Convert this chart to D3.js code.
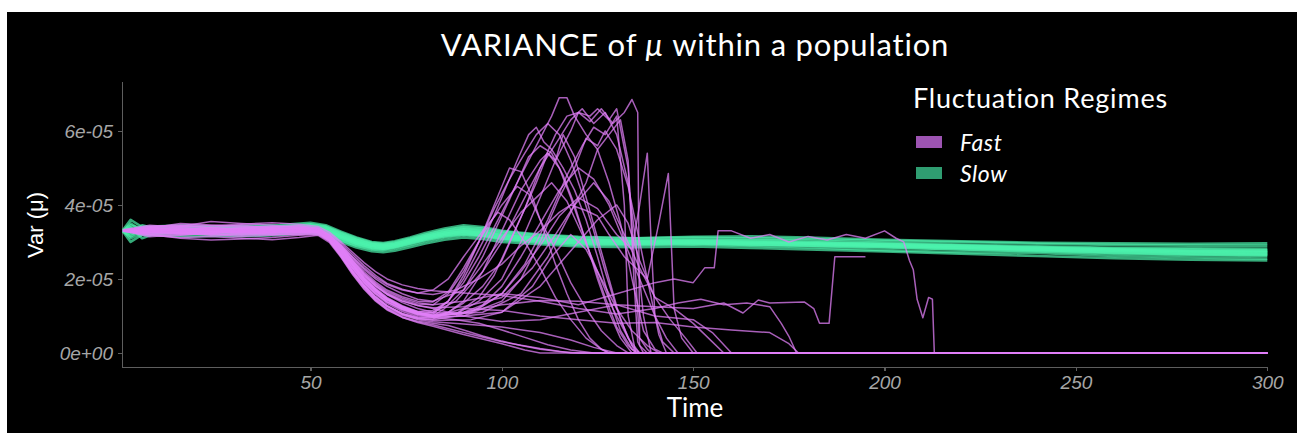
<!DOCTYPE html>
<html>
<head>
<meta charset="utf-8" />
<title>Variance of mu</title>
<script src="https://cdn.jsdelivr.net/npm/d3@7"></script>
<style>
  body { margin: 0; background: #fff; }
  .axis path, .axis line { stroke: #5e5e5e; stroke-width: 1.3; shape-rendering: crispEdges; }
  .axis text { fill: #a6a6a6; font-family: "Liberation Sans", Arial, sans-serif; font-style: italic; font-size: 19px; }
</style>
</head>
<body>
<div id="chart"></div>
<script>
  // values are in units of 1e-5
  const UNIT = 1e-5;

  const xTicks = [50, 100, 150, 200, 250, 300];
  const yTicks = [0, 2e-5, 4e-5, 6e-5];
  const yTickLabels = ["0e+00", "2e-05", "4e-05", "6e-05"];
  const regimes = ["Fast", "Slow"];

  // slow regime: shared time grid
  const tSlow = [1,3,6,10,18,26,34,42,50,54,58,62,66,69,72,76,80,85,90,95,100,110,120,135,150,165,180,200,220,240,260,280,300];
  const slow01 = [3.30,3.35,3.28,3.30,3.27,3.31,3.29,3.33,3.38,3.30,3.12,2.98,2.88,2.85,2.90,3.00,3.10,3.20,3.26,3.20,3.12,3.05,3.00,2.98,3.00,2.97,2.95,2.90,2.85,2.80,2.75,2.72,2.70];
  const slow02 = [3.32,3.60,3.40,3.42,3.45,3.40,3.44,3.46,3.52,3.45,3.28,3.12,3.00,2.97,3.02,3.12,3.24,3.36,3.45,3.40,3.30,3.20,3.14,3.10,3.12,3.10,3.08,3.03,3.00,2.95,2.92,2.90,2.90];
  const slow03 = [3.28,3.00,3.20,3.18,3.15,3.17,3.16,3.19,3.24,3.18,3.00,2.85,2.75,2.72,2.76,2.86,2.96,3.06,3.12,3.08,3.00,2.94,2.88,2.86,2.88,2.84,2.80,2.74,2.68,2.62,2.56,2.52,2.50];
  const slow04 = [3.30,3.25,3.45,3.35,3.33,3.36,3.34,3.36,3.42,3.36,3.18,3.04,2.93,2.90,2.95,3.05,3.16,3.27,3.33,3.28,3.18,3.10,3.06,3.04,3.06,3.04,3.00,2.95,2.90,2.86,2.82,2.80,2.78];
  const slow05 = [3.31,3.40,3.10,3.25,3.22,3.24,3.22,3.26,3.32,3.24,3.06,2.92,2.82,2.80,2.85,2.95,3.05,3.15,3.20,3.16,3.08,3.00,2.95,2.93,2.95,2.92,2.90,2.85,2.80,2.74,2.68,2.64,2.62];
  const slow06 = [3.29,3.50,3.30,3.28,3.32,3.35,3.38,3.40,3.46,3.40,3.22,3.06,2.95,2.92,2.96,3.06,3.18,3.30,3.38,3.33,3.24,3.14,3.08,3.02,3.02,3.00,2.98,2.94,2.90,2.84,2.78,2.74,2.72];
  const slow07 = [3.30,3.15,3.35,3.22,3.28,3.26,3.24,3.28,3.35,3.28,3.10,2.95,2.85,2.82,2.87,2.97,3.08,3.18,3.24,3.18,3.10,3.04,2.98,2.96,2.96,2.94,2.92,2.88,2.84,2.80,2.76,2.70,2.68];
  const slow08 = [3.32,3.30,3.25,3.38,3.36,3.30,3.32,3.31,3.36,3.32,3.15,3.00,2.90,2.88,2.92,3.02,3.12,3.22,3.28,3.24,3.16,3.08,3.02,3.00,2.98,2.98,2.97,2.92,2.86,2.82,2.78,2.75,2.74];
  const slow09 = [3.30,3.10,3.25,3.28,3.24,3.20,3.22,3.24,3.30,3.22,3.04,2.90,2.80,2.78,2.82,2.92,3.02,3.12,3.18,3.14,3.06,2.98,2.92,2.92,2.94,2.90,2.86,2.78,2.72,2.70,2.62,2.58,2.55];
  const slow10 = [3.31,3.45,3.35,3.32,3.40,3.38,3.36,3.38,3.44,3.38,3.20,3.05,2.94,2.91,2.95,3.04,3.15,3.26,3.34,3.30,3.22,3.12,3.06,3.04,3.05,3.06,3.04,2.98,2.93,2.88,2.84,2.83,2.82];
  const slow11 = [3.29,3.20,3.30,3.30,3.30,3.33,3.31,3.34,3.40,3.34,3.16,3.02,2.92,2.88,2.93,3.03,3.14,3.24,3.30,3.26,3.18,3.10,3.04,3.02,3.03,3.00,2.96,2.92,2.88,2.84,2.80,2.77,2.76];
  const slow12 = [3.30,3.38,3.28,3.36,3.38,3.42,3.40,3.42,3.48,3.42,3.25,3.10,2.98,2.95,2.99,3.09,3.20,3.32,3.40,3.36,3.28,3.18,3.12,3.10,3.14,3.15,3.12,3.06,3.02,2.98,2.96,2.95,2.96];
  const slow13 = [3.30,3.28,3.20,3.24,3.26,3.28,3.27,3.30,3.36,3.29,3.11,2.96,2.86,2.83,2.88,2.98,3.08,3.18,3.22,3.18,3.10,3.02,2.96,2.95,2.97,2.94,2.91,2.86,2.80,2.76,2.70,2.66,2.64];
  const slow14 = [3.31,3.33,3.32,3.26,3.29,3.30,3.33,3.35,3.40,3.33,3.14,2.99,2.89,2.86,2.91,3.01,3.12,3.22,3.28,3.22,3.14,3.06,3.01,2.99,3.00,2.98,2.95,2.90,2.84,2.78,2.72,2.68,2.66];

  // fast regime: [time, value] pairs, each run ends when it does
  const fast01 = [[1,3.30],[8,3.38],[16,3.50],[24,3.46],[32,3.42],[40,3.40],[47,3.44],[52,3.36],[55,3.18],[58,2.85],[61,2.45],[64,2.05],[67,1.75],[70,1.50],[74,1.28],[78,1.12],[82,1.15],[86,1.40],[90,1.90],[94,2.60],[98,3.40],[102,4.20],[106,5.00],[110,5.80],[113,6.40],[115,6.90],[117,6.90],[119,6.40],[122,5.90],[125,5.50],[128,4.60],[131,3.50],[134,2.00],[137,0.60],[140,0.10],[142,0],[300,0]];
  const fast02 = [[1,3.32],[8,3.28],[16,3.22],[24,3.25],[32,3.30],[40,3.28],[47,3.32],[52,3.30],[55,3.10],[58,2.78],[61,2.38],[64,1.98],[67,1.68],[70,1.44],[74,1.22],[78,1.08],[82,1.02],[86,1.10],[90,1.35],[95,1.80],[100,2.50],[103,3.20],[106,3.90],[110,5.00],[114,5.90],[117,6.40],[120,6.50],[123,6.25],[126,6.60],[129,6.20],[132,6.50],[134,6.85],[135.5,6.50],[136,0.40],[138,0.10],[139,0],[300,0]];
  const fast03 = [[1,3.28],[8,3.40],[16,3.36],[24,3.30],[32,3.20],[40,3.25],[47,3.30],[52,3.28],[55,3.08],[58,2.70],[61,2.28],[64,1.90],[67,1.60],[70,1.38],[74,1.18],[78,1.05],[82,1.10],[86,1.40],[90,2.00],[95,3.00],[100,4.20],[104,5.20],[107,5.90],[109,6.10],[111,5.70],[113,5.50],[116,5.00],[119,4.40],[122,3.60],[125,2.60],[128,1.50],[131,0.60],[134,0.10],[136,0],[300,0]];
  const fast04 = [[1,3.30],[8,3.20],[16,3.10],[24,3.05],[32,3.08],[40,3.12],[47,3.18],[52,3.20],[55,3.02],[58,2.62],[61,2.18],[64,1.78],[67,1.45],[70,1.22],[74,1.02],[78,0.92],[82,0.90],[88,1.00],[94,1.20],[100,1.60],[105,2.20],[110,2.90],[115,3.70],[120,4.20],[125,3.90],[130,3.20],[134,2.80],[136,4.00],[138,5.40],[139,3.00],[140,1.00],[142,0.30],[145,0],[300,0]];
  const fast05 = [[1,3.31],[8,3.30],[16,3.42],[24,3.55],[32,3.50],[40,3.45],[47,3.40],[52,3.38],[55,3.22],[58,2.96],[61,2.66],[64,2.36],[67,2.10],[70,1.88],[74,1.72],[78,1.62],[82,1.58],[88,1.70],[94,2.00],[100,2.40],[105,2.90],[110,3.30],[115,3.80],[118,4.00],[122,3.85],[125,3.70],[128,3.20],[132,2.60],[136,2.20],[138,2.00],[141,3.50],[143.5,4.85],[145,1.20],[147,0.40],[150,0],[300,0]];
  const fast06 = [[1,3.29],[8,3.35],[16,3.30],[24,3.38],[32,3.35],[40,3.33],[47,3.36],[52,3.32],[55,3.14],[58,2.82],[61,2.42],[64,2.02],[67,1.72],[70,1.46],[74,1.24],[78,1.08],[82,1.00],[88,1.05],[94,1.40],[100,2.00],[105,3.00],[110,4.20],[114,5.20],[118,6.00],[120,6.50],[123,6.40],[125,6.60],[128,6.30],[130,6.60],[133,5.00],[135,2.00],[136,0.20],[138,0],[300,0]];
  const fast07 = [[1,3.30],[8,3.25],[16,3.28],[24,3.20],[32,3.15],[40,3.18],[47,3.22],[52,3.25],[55,3.04],[58,2.66],[61,2.22],[64,1.84],[67,1.52],[70,1.28],[74,1.06],[78,0.94],[82,0.92],[86,1.10],[90,1.40],[95,2.20],[100,3.30],[105,4.40],[110,5.20],[112,5.40],[115,5.00],[118,4.20],[121,3.30],[124,2.40],[127,1.50],[130,0.70],[133,0.20],[135,0],[300,0]];
  const fast08 = [[1,3.33],[8,3.45],[16,3.40],[24,3.32],[32,3.38],[40,3.42],[47,3.38],[52,3.34],[55,3.18],[58,2.90],[61,2.55],[64,2.20],[67,1.92],[70,1.70],[74,1.52],[78,1.40],[82,1.38],[86,1.65],[90,2.30],[95,3.20],[100,4.00],[104,4.50],[107,4.30],[110,3.60],[114,2.80],[118,1.90],[122,1.20],[126,0.60],[130,0.20],[133,0],[300,0]];
  const fast09 = [[1,3.30],[8,3.32],[16,3.25],[24,3.28],[32,3.34],[40,3.30],[47,3.28],[52,3.30],[55,3.16],[58,2.92],[61,2.60],[64,2.30],[67,2.05],[70,1.85],[74,1.70],[78,1.62],[82,1.70],[86,2.00],[90,2.60],[95,3.30],[99,3.80],[102,3.60],[106,3.00],[110,2.30],[114,1.50],[118,0.90],[122,0.40],[126,0.10],[128,0],[300,0]];
  const fast10 = [[1,3.31],[8,3.22],[16,3.18],[24,3.24],[32,3.26],[40,3.20],[47,3.24],[52,3.26],[55,3.06],[58,2.70],[61,2.28],[64,1.90],[67,1.58],[70,1.34],[74,1.12],[78,0.98],[82,0.95],[90,1.00],[100,1.40],[105,2.00],[110,3.00],[115,4.20],[119,5.00],[122,5.80],[125,5.60],[127,6.00],[130,5.50],[133,4.50],[136,3.00],[139,1.50],[141,0.50],[143,0],[300,0]];
  const fast11 = [[1,3.30],[8,3.36],[16,3.32],[24,3.40],[32,3.45],[40,3.38],[47,3.34],[52,3.32],[55,3.12],[58,2.78],[61,2.38],[64,2.00],[67,1.70],[70,1.46],[74,1.25],[78,1.10],[82,1.02],[90,1.10],[95,1.30],[100,1.80],[105,2.60],[110,3.50],[115,4.40],[120,5.00],[124,4.70],[128,4.00],[132,3.00],[136,2.00],[140,1.00],[143,0.40],[146,0],[300,0]];
  const fast12 = [[1,3.30],[8,3.30],[16,3.34],[24,3.30],[32,3.28],[40,3.32],[47,3.30],[52,3.28],[55,3.06],[58,2.64],[61,2.18],[64,1.78],[67,1.44],[70,1.20],[74,0.98],[78,0.86],[82,0.80],[86,0.74],[90,0.62],[95,0.46],[100,0.32],[105,0.20],[110,0.10],[115,0.04],[120,0],[300,0]];
  const fast13 = [[1,3.29],[8,3.18],[16,3.12],[24,3.15],[32,3.10],[40,3.06],[47,3.12],[52,3.18],[55,2.98],[58,2.58],[61,2.12],[64,1.72],[67,1.40],[70,1.16],[74,0.96],[78,0.84],[82,0.76],[90,0.55],[100,0.30],[110,0.12],[118,0],[300,0]];
  const fast14 = [[1,3.32],[8,3.42],[16,3.46],[24,3.44],[32,3.48],[40,3.52],[47,3.48],[52,3.42],[55,3.26],[58,3.00],[61,2.72],[64,2.44],[67,2.20],[70,2.00],[74,1.84],[78,1.74],[82,1.68],[90,1.62],[100,1.55],[110,1.40],[120,1.20],[130,1.05],[140,1.20],[146,1.35],[152,1.45],[158,1.30],[164,1.35],[170,1.25],[173,0.80],[175,0.45],[177,0],[300,0]];
  const fast15 = [[1,3.30],[8,3.26],[16,3.32],[24,3.36],[32,3.32],[40,3.26],[47,3.30],[52,3.34],[55,3.16],[58,2.86],[61,2.50],[64,2.16],[67,1.88],[70,1.66],[74,1.48],[78,1.36],[82,1.30],[90,1.40],[100,1.60],[110,1.50],[120,1.30],[130,1.60],[140,1.90],[145,2.00],[150,1.90],[153,2.30],[155.5,2.30],[156.5,3.30],[160,3.30],[165,3.10],[170,3.20],[175,3.00],[180,3.15],[185,3.05],[190,3.20],[195,3.10],[200,3.30],[203,3.10],[205,3.00],[206.5,2.50],[207.5,2.25],[208.5,1.45],[210,0.95],[211.5,1.50],[212.5,1.45],[213,0],[300,0]];
  const fast16 = [[1,3.31],[8,3.38],[16,3.30],[24,3.26],[32,3.24],[40,3.28],[47,3.32],[52,3.30],[55,3.10],[58,2.76],[61,2.36],[64,1.98],[67,1.68],[70,1.44],[74,1.24],[78,1.12],[82,1.08],[90,1.10],[100,1.30],[110,1.42],[120,1.40],[130,1.30],[140,1.25],[150,1.20],[158,1.35],[163,1.08],[167,1.43],[170,1.35],[179,1.38],[181.5,1.20],[183,0.80],[185.5,0.80],[187,2.60],[195,2.60]];
  const fast17 = [[1,3.30],[8,3.14],[16,3.20],[24,3.22],[32,3.18],[40,3.22],[47,3.20],[52,3.22],[55,3.02],[58,2.62],[61,2.18],[64,1.80],[67,1.48],[70,1.26],[74,1.06],[78,0.96],[82,0.98],[90,1.20],[100,1.15],[110,1.00],[120,0.90],[130,0.80],[140,0.82],[150,0.70],[160,0.62],[170,0.55],[175,0.25],[177.5,0],[300,0]];
  const fast18 = [[1,3.30],[8,3.34],[16,3.38],[24,3.34],[32,3.40],[40,3.36],[47,3.34],[52,3.34],[55,3.14],[58,2.82],[61,2.44],[64,2.08],[67,1.80],[70,1.58],[74,1.40],[78,1.28],[82,1.20],[90,1.00],[100,0.85],[110,0.90],[120,1.10],[130,1.30],[140,1.00],[150,0.90],[155,0.55],[160,0],[300,0]];
  const fast19 = [[1,3.30],[8,3.28],[16,3.24],[24,3.18],[32,3.22],[40,3.26],[47,3.28],[52,3.28],[55,3.08],[58,2.72],[61,2.30],[64,1.92],[67,1.62],[70,1.38],[74,1.16],[78,1.02],[82,0.98],[90,1.00],[100,1.10],[110,1.80],[120,3.00],[125,3.60],[130,4.00],[133,3.50],[136,2.50],[140,1.50],[145,1.20],[150,0.80],[155,0.30],[158,0],[300,0]];
  const fast20 = [[1,3.31],[8,3.42],[16,3.44],[24,3.38],[32,3.30],[40,3.34],[47,3.38],[52,3.36],[55,3.18],[58,2.88],[61,2.50],[64,2.12],[67,1.82],[70,1.58],[74,1.36],[78,1.20],[82,1.10],[88,1.40],[95,2.20],[100,3.00],[105,4.00],[110,5.00],[115,5.80],[118,6.30],[121,6.60],[124,6.20],[127,6.50],[130,5.90],[133,4.60],[135,3.00],[137,1.00],[139,0],[300,0]];
  const fast21 = [[1,3.30],[8,3.24],[16,3.30],[24,3.34],[32,3.26],[40,3.24],[47,3.26],[52,3.32],[55,3.16],[58,2.90],[61,2.58],[64,2.26],[67,2.00],[70,1.80],[74,1.60],[78,1.45],[82,1.40],[90,1.70],[95,2.40],[100,3.10],[105,3.80],[110,4.30],[113,4.60],[117,4.10],[121,3.20],[125,2.20],[129,1.20],[133,0.40],[136,0],[300,0]];
  const fast22 = [[1,3.32],[8,3.36],[16,3.28],[24,3.22],[32,3.28],[40,3.36],[47,3.40],[52,3.34],[55,3.12],[58,2.76],[61,2.34],[64,1.96],[67,1.66],[70,1.42],[74,1.20],[78,1.04],[82,1.00],[85,1.20],[90,1.70],[95,2.60],[100,3.70],[104,4.60],[107,5.30],[110,5.60],[113,5.40],[116,4.80],[119,4.00],[122,3.00],[125,2.00],[128,1.10],[131,0.40],[134,0],[300,0]];
  const fast23 = [[1,3.30],[8,3.20],[16,3.26],[24,3.30],[32,3.36],[40,3.30],[47,3.26],[52,3.24],[55,3.02],[58,2.60],[61,2.14],[64,1.74],[67,1.42],[70,1.18],[74,0.96],[78,0.82],[82,0.72],[90,0.50],[100,0.25],[106,0.08],[110,0],[300,0]];
  const fast24 = [[1,3.30],[8,3.30],[16,3.22],[24,3.28],[32,3.32],[40,3.40],[47,3.44],[52,3.38],[55,3.16],[58,2.80],[61,2.40],[64,2.02],[67,1.72],[70,1.48],[74,1.26],[78,1.10],[82,1.02],[95,1.10],[105,1.60],[112,2.60],[118,3.80],[122,4.60],[125,5.50],[128,5.90],[131,6.30],[133,5.20],[134.5,2.00],[135.5,0.30],[137,0],[300,0]];
  const fast25 = [[1,3.30],[10,3.32],[20,3.28],[30,3.30],[40,3.31],[48,3.32],[52,3.30],[55,3.10],[58,2.76],[61,2.36],[64,1.98],[67,1.68],[70,1.44],[74,1.22],[78,1.06],[82,0.96],[88,0.90],[94,0.80],[100,0.62],[106,0.42],[112,0.22],[118,0.08],[124,0],[300,0]];
  const fast26 = [[1,3.31],[10,3.28],[20,3.34],[30,3.32],[40,3.28],[48,3.30],[52,3.31],[55,3.12],[58,2.78],[61,2.38],[64,2.00],[67,1.70],[70,1.45],[74,1.23],[78,1.07],[82,0.98],[88,1.05],[94,1.50],[98,2.10],[102,3.00],[106,3.90],[109,4.60],[112,5.40],[114,5.20],[116,5.90],[119,5.30],[122,4.20],[125,3.10],[128,2.00],[131,0.90],[134,0.20],[136,0],[300,0]];
  const fast27 = [[1,3.30],[10,3.34],[20,3.30],[30,3.26],[40,3.30],[48,3.34],[52,3.32],[55,3.14],[58,2.80],[61,2.40],[64,2.02],[67,1.72],[70,1.47],[74,1.25],[78,1.09],[82,1.00],[92,1.10],[100,1.60],[106,2.40],[112,3.60],[117,4.80],[121,5.60],[124,6.10],[127,5.90],[130,6.40],[132,4.00],[133,1.00],[135,0],[300,0]];
  const fast28 = [[1,3.30],[10,3.26],[20,3.22],[30,3.28],[40,3.34],[48,3.30],[52,3.28],[55,3.08],[58,2.72],[61,2.30],[64,1.92],[67,1.62],[70,1.38],[74,1.18],[78,1.05],[82,1.05],[86,1.40],[90,2.10],[94,3.00],[98,4.00],[102,5.00],[105,4.90],[108,4.20],[111,3.30],[114,2.40],[117,1.60],[120,0.90],[123,0.40],[126,0.10],[128,0],[300,0]];
  const fast29 = [[1,3.30],[10,3.30],[20,3.36],[30,3.34],[40,3.28],[48,3.26],[52,3.28],[55,3.06],[58,2.66],[61,2.22],[64,1.84],[67,1.52],[70,1.28],[74,1.06],[78,0.94],[82,0.88],[92,0.90],[100,1.10],[108,1.80],[113,2.60],[118,3.20],[122,2.80],[126,2.00],[130,1.20],[134,0.60],[138,0.20],[141,0],[300,0]];
  const fast30 = [[1,3.29],[10,3.24],[20,3.26],[30,3.30],[40,3.26],[48,3.28],[52,3.26],[55,3.04],[58,2.64],[61,2.20],[64,1.82],[67,1.50],[70,1.26],[74,1.04],[78,0.90],[82,0.84],[90,0.78],[100,0.70],[110,0.55],[118,0.35],[124,0.15],[130,0],[300,0]];
  const fast31 = [[1,3.30],[10,3.36],[20,3.32],[30,3.36],[40,3.38],[48,3.36],[52,3.34],[55,3.16],[58,2.84],[61,2.46],[64,2.10],[67,1.82],[70,1.60],[74,1.40],[78,1.28],[82,1.22],[90,1.25],[100,1.50],[108,2.30],[114,3.20],[119,4.00],[124,4.60],[128,4.10],[132,3.20],[136,2.30],[140,1.50],[144,0.90],[148,0.40],[151,0],[300,0]];
  const fast32 = [[1,3.31],[10,3.40],[20,3.42],[30,3.36],[40,3.34],[48,3.38],[52,3.36],[55,3.18],[58,2.88],[61,2.50],[64,2.14],[67,1.86],[70,1.62],[74,1.44],[78,1.32],[82,1.30],[86,1.60],[90,2.20],[94,3.00],[98,3.90],[102,4.70],[106,5.40],[109,5.90],[112,6.20],[115,5.90],[118,5.20],[121,4.30],[124,3.30],[127,2.20],[130,1.20],[133,0.40],[135,0],[300,0]];

  const slowRuns = [slow01, slow02, slow03, slow04, slow05, slow06, slow07, slow08, slow09, slow10, slow11, slow12, slow13, slow14];
  const fastRuns = [fast01, fast02, fast03, fast04, fast05, fast06, fast07, fast08, fast09, fast10, fast11, fast12,
                    fast13, fast14, fast15, fast16, fast17, fast18, fast19, fast20, fast21, fast22, fast23, fast24,
                    fast25, fast26, fast27, fast28, fast29, fast30, fast31, fast32];

  const W = 1297, H = 433;
  const svg = d3.select("#chart").append("svg")
    .attr("width", W)
    .attr("height", H);

  // dark panel
  svg.append("rect")
    .attr("x", 7).attr("y", 12)
    .attr("width", W - 7).attr("height", H - 12)
    .attr("fill", "#000");

  const x = d3.scaleLinear().domain([0.75, 300]).range([122, 1267.3]);
  const y = d3.scaleLinear().domain([-0.38e-5, 7.35e-5]).range([367, 81]);

  svg.append("g")
    .attr("class", "axis")
    .attr("transform", "translate(0,367)")
    .call(d3.axisBottom(x).tickValues(xTicks).tickSize(4).tickSizeOuter(0).tickPadding(5));

  svg.append("g")
    .attr("class", "axis")
    .attr("transform", "translate(122,0)")
    .call(d3.axisLeft(y).tickValues(yTicks).tickSize(4).tickSizeOuter(0).tickPadding(5)
      .tickFormat((d, i) => yTickLabels[i]));

  const line = d3.line()
    .x(d => x(d[0]))
    .y(d => y(d[1] * UNIT));

  // slow runs first, fast runs on top
  svg.append("g").selectAll("path")
    .data(slowRuns.map(vals => tSlow.map((t, i) => [t, vals[i]])))
    .enter().append("path")
    .attr("d", line)
    .attr("fill", "none")
    .attr("stroke", "#4cf2ad")
    .attr("stroke-opacity", 0.7)
    .attr("stroke-width", 2.6)
    .attr("stroke-linejoin", "round");

  svg.append("g").selectAll("path")
    .data(fastRuns)
    .enter().append("path")
    .attr("d", line)
    .attr("fill", "none")
    .attr("stroke", "#e07ff7")
    .attr("stroke-opacity", 0.75)
    .attr("stroke-width", 1.5)
    .attr("stroke-linejoin", "round");

  // title
  const title = svg.append("text")
    .attr("x", 695).attr("y", 56)
    .attr("text-anchor", "middle")
    .attr("fill", "#fff")
    .style("font-family", "Lato, sans-serif")
    .style("font-size", "31px")
    .style("letter-spacing", "0.8px");
  title.append("tspan").text("VARIANCE of ");
  title.append("tspan").style("font-style", "italic").text("μ");
  title.append("tspan").text(" within a population");

  // axis titles
  svg.append("text")
    .attr("x", 695).attr("y", 417)
    .attr("text-anchor", "middle")
    .attr("fill", "#fff")
    .style("font-family", "Lato, sans-serif")
    .style("font-size", "26px")
    .text("Time");

  svg.append("text")
    .attr("transform", "translate(43,225) rotate(-90)")
    .attr("text-anchor", "middle")
    .attr("fill", "#fff")
    .style("font-family", "'Liberation Sans', Arial, sans-serif")
    .style("font-size", "22px")
    .text("Var (μ)");

  // legend
  const legendColors = ["#9d54b2", "#2f9d71"];
  const legend = svg.append("g");
  legend.append("text")
    .attr("x", 913).attr("y", 108)
    .attr("fill", "#fff")
    .style("font-family", "Lato, sans-serif")
    .style("font-size", "27px")
    .style("letter-spacing", "0.8px")
    .text("Fluctuation Regimes");

  const items = legend.selectAll("g.item")
    .data(regimes)
    .enter().append("g")
    .attr("class", "item")
    .attr("transform", (d, i) => "translate(916," + (136 + i * 31) + ")");
  items.append("rect")
    .attr("width", 26).attr("height", 12)
    .attr("fill", (d, i) => legendColors[i]);
  items.append("text")
    .attr("x", 44).attr("y", 15)
    .attr("fill", "#fff")
    .style("font-family", "Lato, sans-serif")
    .style("font-style", "italic")
    .style("font-size", "23px")
    .style("letter-spacing", "0.6px")
    .text(d => d);
</script>
</body>
</html>
